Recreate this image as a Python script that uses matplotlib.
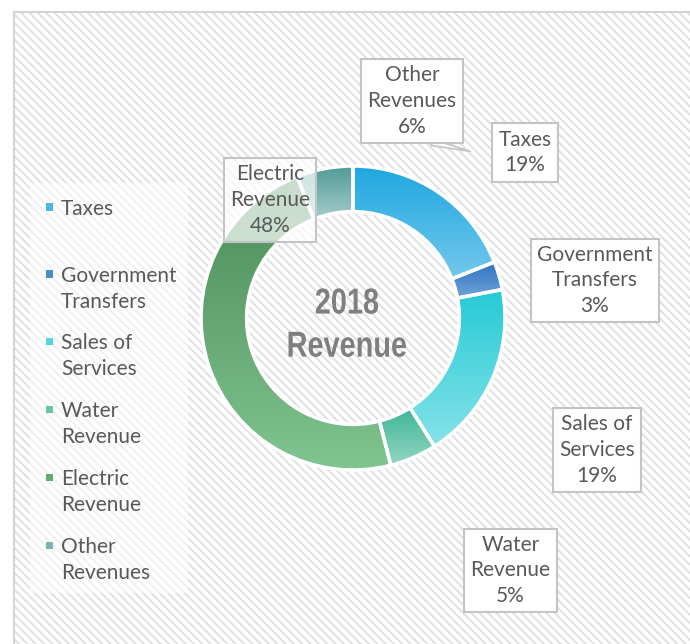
import numpy as np
import matplotlib
matplotlib.use('Agg')
import matplotlib.pyplot as plt
from matplotlib.colors import LinearSegmentedColormap, to_rgb
from matplotlib.patches import Rectangle
from matplotlib.patheffects import AbstractPathEffect
from matplotlib.transforms import Affine2D

categories = ['Taxes', 'Government Transfers', 'Sales of Services',
              'Water Revenue', 'Electric Revenue', 'Other Revenues']
shares = [19, 3, 19, 5, 48, 6]
chart_title = '2018\nRevenue'

# gradient colours, top -> bottom
top_colors = ['#1FA7E0', '#2C73BF', '#25CAD6', '#3DB595', '#4A8B58', '#4F9A98']
bottom_colors = ['#74C8EC', '#6FA3DA', '#86E3E8', '#93D6C3', '#80C490', '#A5CCCB']

W, H = 690, 644
plt.rcParams['font.family'] = ['Lato', 'DejaVu Sans']
plt.rcParams['hatch.linewidth'] = 1.4
fig = plt.figure(figsize=(W / 100, H / 100), dpi=100)
fig.patch.set_facecolor('white')


class Squeeze(AbstractPathEffect):
    # narrow the glyphs horizontally around x0 (display px)
    def __init__(self, sx, x0):
        super().__init__()
        self.sx, self.x0 = sx, x0

    def draw_path(self, renderer, gc, tpath, affine, rgbFace=None):
        t = affine + Affine2D().translate(-self.x0, 0).scale(self.sx, 1).translate(self.x0, 0)
        renderer.draw_path(gc, tpath, t, rgbFace)


# hatched background + frame
bg = Rectangle((14 / W, -0.1), 1.2, 1.1 - 12 / H, transform=fig.transFigure,
               facecolor='white', edgecolor='#E0E0E0', hatch='\\\\\\\\', lw=0, zorder=-3)
fig.patches.append(bg)
frame = Rectangle((14 / W, -0.1), 1.2, 1.1 - 12 / H, transform=fig.transFigure,
                  fill=False, edgecolor='#D4D4D4', lw=1.5, zorder=-2)
fig.patches.append(frame)

# legend panel
fig.patches.append(Rectangle((30 / W, 1 - 593 / H), 158 / W, 410 / H, transform=fig.transFigure,
                             facecolor=(1, 1, 1, 0.55), lw=0, zorder=-1))


def wrap(s):
    return s if ' ' not in s else '\n'.join(s.rsplit(' ', 1))


# donut
R, cx, cy, lim = 152, 353, 318, 1.1
ax = fig.add_axes([(cx - R * lim) / W, (H - cy - R * lim) / H, 2 * R * lim / W, 2 * R * lim / H])
ax.set_zorder(2)
ax.patch.set_alpha(0)
wedges, _ = ax.pie(shares, startangle=90, counterclock=False, radius=1,
                   wedgeprops=dict(width=0.3, edgecolor='white', linewidth=2.5))

grad = np.linspace(0, 1, 256).reshape(-1, 1)
for w, c0, c1 in zip(wedges, top_colors, bottom_colors):
    ext = w.get_path().get_extents()
    cmap = LinearSegmentedColormap.from_list('g', [c1, c0])
    im = ax.imshow(grad, cmap=cmap, extent=[ext.x0, ext.x1, ext.y0, ext.y1],
                   origin='lower', aspect='auto', zorder=1)
    im.set_clip_path(w)
    w.set_facecolor('none')
    w.set_zorder(2)

ax.set_xlim(-lim, lim)
ax.set_ylim(-lim, lim)
ax.set_aspect('equal')
ax.axis('off')

tx, ty = -0.04, -0.05
x_disp = ax.transData.transform((tx, ty))[0]
ax.text(tx, ty, chart_title, ha='center', va='center', fontsize=26, fontweight='bold',
        family=['Liberation Sans', 'DejaVu Sans'], color='#7F7F7F', linespacing=1.3, zorder=3,
        path_effects=[Squeeze(0.8, x_disp)])

# data labels
label_pos = [(1.132, 1.089), (1.592, 0.247), (1.605, -0.868),
             (1.036, -1.661), (-0.546, 0.776), (0.388, 1.428)]
for name, v, (x, y) in zip(categories, shares, label_pos):
    fc = (1, 1, 1, 0.7) if name == 'Electric Revenue' else 'white'
    ax.text(x, y, f'{wrap(name)}\n{v}%', ha='center', va='center', fontsize=15,
            color='#595959', linespacing=1.35, zorder=6, clip_on=False,
            bbox=dict(boxstyle='square,pad=0.3', fc=fc, ec='#C4C4C4', lw=1.5))

# callout pointer for Other Revenues
ax.annotate('', xy=(0.789, 1.092), xytext=(0.5, 1.16), zorder=5,
            arrowprops=dict(arrowstyle='wedge,tail_width=0.45,shrink_factor=0.5',
                            fc='white', ec='#C4C4C4', lw=1.2), annotation_clip=False)

# legend
legend_rows = [207, 274, 341, 409, 477, 545]
for name, c0, c1, ypx in zip(categories, top_colors, bottom_colors, legend_rows):
    mid = tuple((np.array(to_rgb(c0)) + np.array(to_rgb(c1))) / 2)
    fig.patches.append(Rectangle(((49 - 3.5) / W, 1 - (ypx + 3.5) / H), 7 / W, 7 / H,
                                 transform=fig.transFigure, facecolor=mid, lw=0, zorder=3))
    fig.text(61 / W, 1 - (ypx - 8) / H, wrap(name), ha='left', va='top', fontsize=15,
             color='#595959', linespacing=1.35)

fig.savefig('out.png', dpi=100, facecolor='white')
